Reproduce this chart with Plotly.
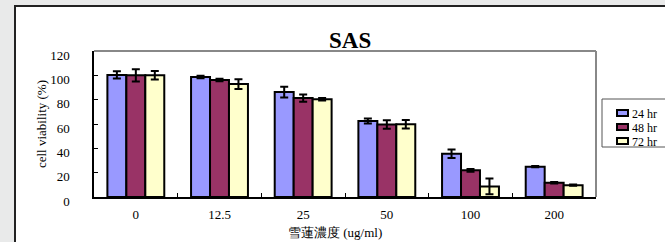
import plotly.graph_objects as go

categories = ["0", "12.5", "25", "50", "100", "200"]
series_names = ["24 hr", "48 hr", "72 hr"]
v24 = [100.3, 98.7, 86.2, 62.5, 35.6, 24.9]
e24 = [3.0, 1.0, 4.4, 2.0, 3.5, 0.5]
v48 = [100.0, 96.2, 81.3, 59.6, 21.9, 11.7]
e48 = [5.0, 1.0, 3.0, 3.5, 1.2, 0.7]
v72 = [100.0, 92.8, 80.4, 59.8, 8.7, 9.7]
e72 = [3.5, 4.0, 1.0, 3.5, 6.5, 0.5]
colors = ["#9999FF", "#993366", "#FFFFCC"]
y_ticks = [0, 20, 40, 60, 80, 100, 120]
title_text = "SAS"
x_title = "雪蓮濃度 (ug/ml)"
y_title = "cell viability (%)"

SERIF = "Times New Roman, Liberation Serif, DejaVu Serif, serif"

fig = go.Figure()
for name, vals, errs, col in zip(series_names, [v24, v48, v72], [e24, e48, e72], colors):
    fig.add_trace(go.Bar(
        x=categories, y=vals, name=name, showlegend=False,
        marker=dict(color=col, line=dict(color="black", width=2)),
        error_y=dict(type="data", array=errs, visible=True, color="black", thickness=2, width=4),
    ))

W, H = 665, 242
L, R, T, B = 94, 69, 51, 45
pw, ph = W - L - R, H - T - B

def px(x):
    return (x - L) / pw

def py(y):
    return 1 - (y - T) / ph

shapes = [
    dict(type="rect", xref="paper", yref="paper", x0=px(15), y0=py(400),
         x1=px(900), y1=py(6), line=dict(color="#222222", width=2),
         fillcolor="white", layer="below"),
    dict(type="line", xref="paper", yref="paper", x0=0, x1=1, y0=1, y1=1,
         line=dict(color="#888888", width=2)),
    dict(type="line", xref="paper", yref="paper", x0=1, x1=1, y0=0, y1=1,
         line=dict(color="#888888", width=2)),
    # legend box
    dict(type="rect", xref="paper", yref="paper", x0=px(602), y0=py(147),
         x1=px(700), y1=py(99), line=dict(color="#555555", width=1),
         fillcolor="white"),
]
annotations = [
    dict(text="<b>%s</b>" % title_text, xref="paper", yref="paper",
         x=px(350), y=py(41), xanchor="center", yanchor="middle", showarrow=False,
         font=dict(family=SERIF, size=23, color="black")),
    dict(text=x_title, xref="paper", yref="paper",
         x=px(335), y=py(232), xanchor="center", yanchor="middle", showarrow=False,
         font=dict(family=SERIF, size=13, color="black")),
]
for i, (name, col) in enumerate(zip(series_names, colors)):
    yc = 113 + i * 14
    shapes.append(dict(type="rect", xref="paper", yref="paper",
                       x0=px(617), x1=px(628), y0=py(yc + 3), y1=py(yc - 3),
                       line=dict(color="black", width=2), fillcolor=col))
    annotations.append(dict(text=name, xref="paper", yref="paper",
                            x=px(630), y=py(yc + 0.5), xanchor="left", yanchor="middle",
                            showarrow=False,
                            font=dict(family=SERIF, size=12, color="black")))

fig.update_layout(
    width=W, height=H,
    margin=dict(l=L, r=R, t=T, b=B, autoexpand=False),
    paper_bgcolor="#E9EAEA",
    plot_bgcolor="white",
    barmode="group", bargap=0.32, bargroupgap=0,
    font=dict(family=SERIF, size=13, color="black"),
    showlegend=False,
    xaxis=dict(type="category", showline=True, linecolor="black", linewidth=2,
               ticks="inside", tickson="boundaries", ticklen=4, tickcolor="black",
               tickwidth=1, showgrid=False, zeroline=False, ticklabelstandoff=4),
    yaxis=dict(range=[0, 120], tickvals=y_ticks, showline=True, linecolor="black",
               linewidth=1.5, ticks="inside", ticklen=4, tickcolor="black",
               showgrid=False, zeroline=False, ticklabelstandoff=20,
               ticklabelshift=4,
               title=dict(text=y_title, standoff=1,
                          font=dict(family=SERIF, size=13))),
    shapes=shapes,
    annotations=annotations,
)

fig.write_html(
    "out.html",
    config={"displayModeBar": False},
    post_script="document.body.style.margin='0';document.body.style.overflow='hidden';",
)
